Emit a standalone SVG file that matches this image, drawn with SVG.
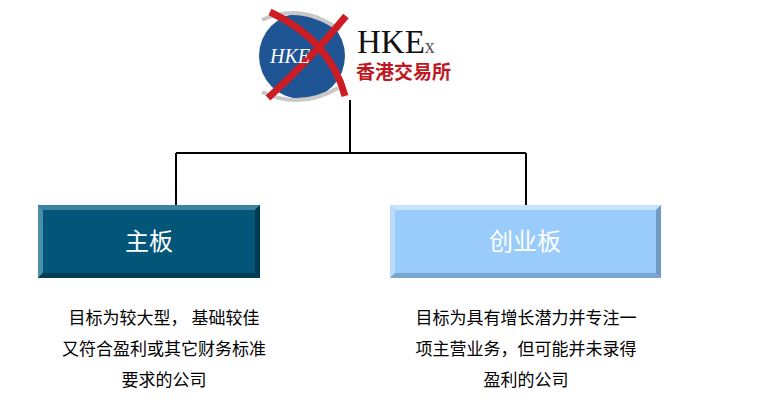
<svg xmlns="http://www.w3.org/2000/svg" width="780" height="416" viewBox="0 0 780 416">
<style>
.c{stroke:#000;stroke-width:2;fill:none}
.t{font-family:"Noto Sans CJK SC",sans-serif;font-size:17px;fill:#000;text-anchor:middle}
.bt{font-family:"Noto Sans CJK SC",sans-serif;font-size:24px;fill:#fff;text-anchor:middle}
</style>
<rect width="780" height="416" fill="#fff"/>
<g id="logo">
<circle cx="302" cy="56" r="43" fill="#1f5594"/>
<path d="M262 20 Q300 2 340 30 M262 92 Q300 110 338 88" stroke="#c8c8c8" stroke-width="4" fill="none"/>
<path d="M270 12 Q330 40 345 96" stroke="#cc1c24" stroke-width="7" fill="none"/>
<path d="M346 16 Q310 60 268 98" stroke="#cc1c24" stroke-width="7" fill="none"/>
<text x="290" y="63" font-family="Liberation Serif,serif" font-style="italic" font-size="20" fill="#fff" text-anchor="middle">HKE</text>
<text x="357" y="53" font-family="Liberation Serif,serif" font-size="33" fill="#111">HKE<tspan font-size="20" fill="#555">x</tspan></text>
<text x="356" y="79" font-family="Noto Sans CJK SC,serif" font-weight="bold" font-size="19" fill="#c0161e">香港交易所</text>
</g>
<g id="connectors">
<path class="c" d="M350 100 V153 M176 153 H526 M176 153 V206 M526 153 V206"/>
</g>
<g id="main">
<rect x="38" y="205" width="222" height="73" fill="#045679"/>
<path d="M38 205 H260 L255 210 H43 Z" fill="#3b83a1"/>
<path d="M38 205 L43 210 V273 L38 278 Z" fill="#4a8ea8"/>
<path d="M260 205 V278 L255 273 V210 Z" fill="#023a52"/>
<path d="M38 278 H260 L255 273 H43 Z" fill="#033e58"/>
<text class="bt" x="149" y="250">主板</text>
</g>
<g id="gem">
<rect x="390" y="205" width="271" height="73" fill="#99ccfb"/>
<path d="M390 205 H661 L656 210 H395 Z" fill="#c6e3fd"/>
<path d="M390 205 L395 210 V273 L390 278 Z" fill="#b8dbfc"/>
<path d="M661 205 V278 L656 273 V210 Z" fill="#6e9ac4"/>
<path d="M390 278 H661 L656 273 H395 Z" fill="#7aa6cf"/>
<text class="bt" x="525" y="250">创业板</text>
</g>
<g id="desc-main">
<text class="t" x="164" y="324">目标为较大型， 基础较佳</text>
<text class="t" x="164" y="355">又符合盈利或其它财务标准</text>
<text class="t" x="164" y="386">要求的公司</text>
</g>
<g id="desc-gem">
<text class="t" x="526" y="324">目标为具有增长潜力并专注一</text>
<text class="t" x="526" y="355">项主营业务，但可能并未录得</text>
<text class="t" x="526" y="386">盈利的公司</text>
</g>
</svg>
